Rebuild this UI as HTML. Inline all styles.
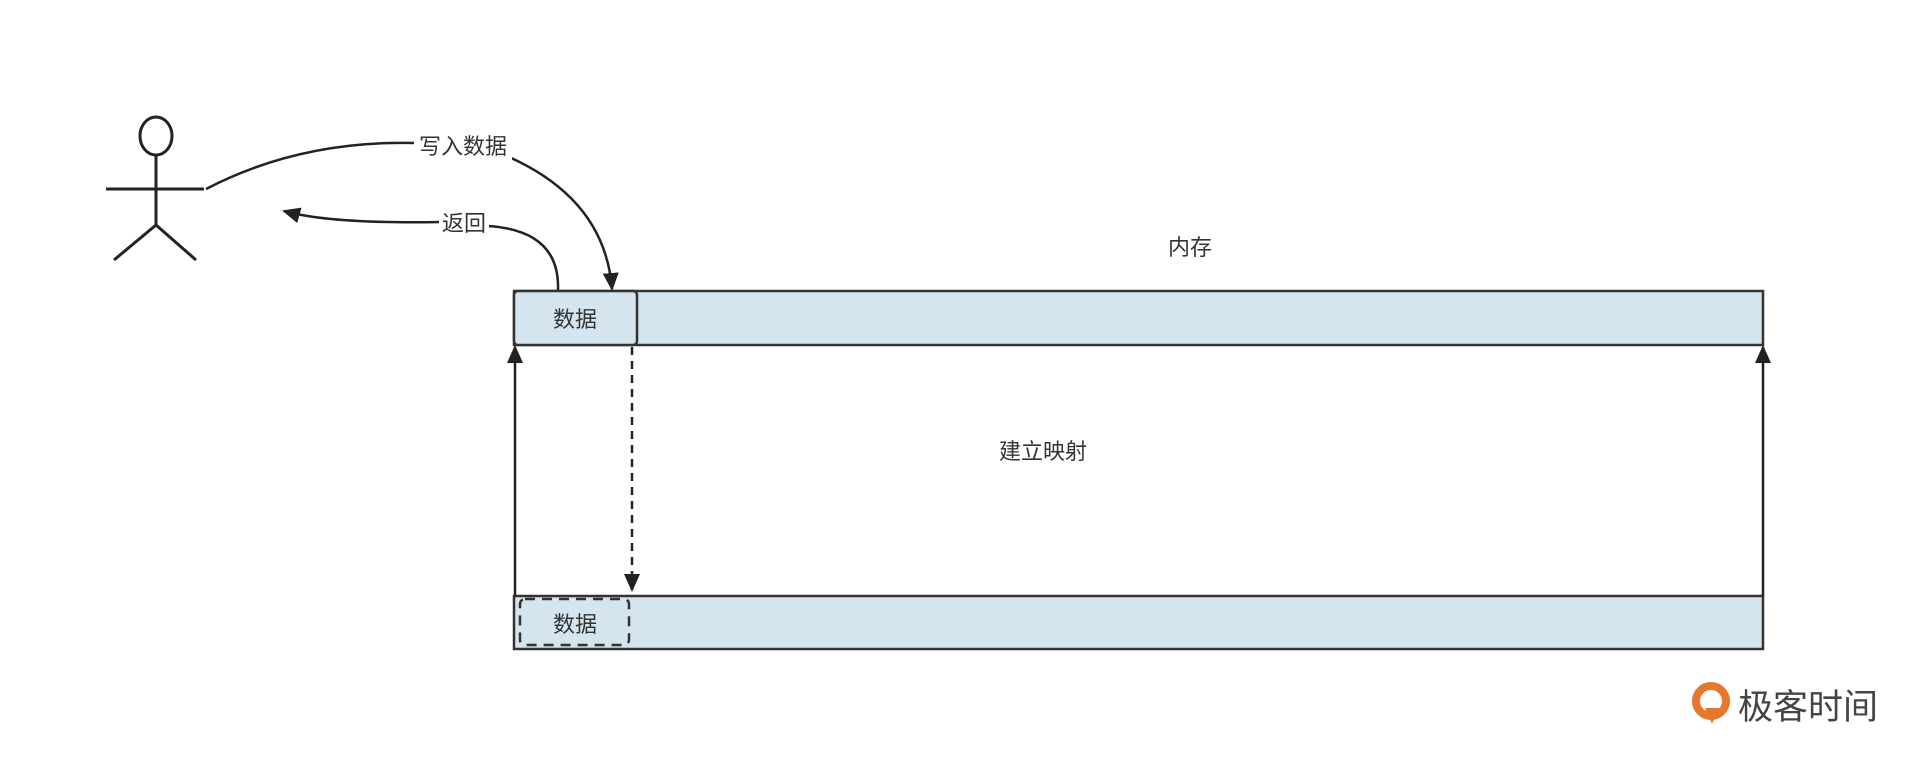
<!DOCTYPE html>
<html><head><meta charset="utf-8"><style>
body{margin:0;background:#fff;width:1920px;height:757px;overflow:hidden}
svg text{font-family:"Liberation Sans","Noto Sans CJK SC",sans-serif;fill:#333}
</style></head><body>
<svg width="1920" height="757" viewBox="0 0 1920 757">
<defs>
<marker id="b" markerWidth="18" markerHeight="16" refX="16" refY="8" orient="auto" markerUnits="userSpaceOnUse"><path d="M0,0 L18,8 L0,16 Z" fill="#222"/></marker></defs>
<g stroke="#222" stroke-width="3" fill="none">
<ellipse cx="156" cy="136" rx="16" ry="19"/>
<line x1="156" y1="155" x2="156" y2="225"/>
<line x1="106" y1="189" x2="204" y2="189"/>
<line x1="156" y1="225" x2="114" y2="260"/>
<line x1="156" y1="225" x2="196" y2="260"/>
</g>
<g stroke="#222" stroke-width="2.5" fill="none">
<path d="M206,189 Q300,140 416,143"/>
<path d="M509,157 Q605,200 612,289" marker-end="url(#b)"/>
<path d="M558,290 Q560,230 487,226"/>
<path d="M441,222 Q330,224 284,211" marker-end="url(#b)"/>
</g>
<rect x="514" y="291" width="1249" height="54" fill="#d4e5ef" stroke="#333" stroke-width="2.5"/>
<rect x="514" y="291" width="123" height="54" rx="4" fill="#d4e5ef" stroke="#333" stroke-width="2.5"/>
<rect x="514" y="596" width="1249" height="53" fill="#d4e5ef" stroke="#333" stroke-width="2.5"/>
<rect x="520" y="599" width="109" height="46" rx="5" fill="none" stroke="#333" stroke-width="2.5" stroke-dasharray="10,7"/>
<g stroke="#222" stroke-width="2.5">
<line x1="515" y1="596" x2="515" y2="347" marker-end="url(#b)"/>
<line x1="1763" y1="596" x2="1763" y2="347" marker-end="url(#b)"/>
<line x1="632" y1="347" x2="632" y2="590" stroke-dasharray="8,6" marker-end="url(#b)"/>
</g>
<rect x="414" y="130" width="98" height="30" fill="#fff"/>
<text x="463" y="154" font-size="22" text-anchor="middle">写入数据</text>
<rect x="439" y="208" width="50" height="30" fill="#fff"/>
<text x="464" y="231" font-size="22" text-anchor="middle">返回</text>
<text x="1190" y="255" font-size="22" text-anchor="middle">内存</text>
<text x="1043" y="459" font-size="22" text-anchor="middle">建立映射</text>
<text x="575" y="327" font-size="22" text-anchor="middle">数据</text>
<text x="575" y="632" font-size="22" text-anchor="middle">数据</text>
<circle cx="1711" cy="701" r="15" fill="none" stroke="#e8772e" stroke-width="8"/>
<path d="M1705,708 L1712,724 L1719,708 Z" fill="#e8772e"/>
<text x="1738" y="719" font-size="35" style="fill:#444">极客时间</text>
</svg>
</body></html>
